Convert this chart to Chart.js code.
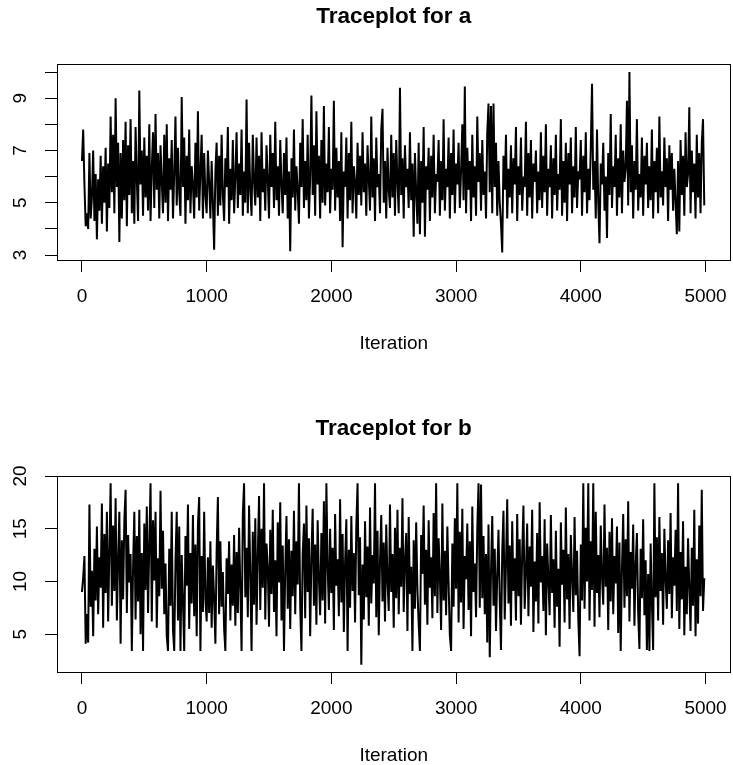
<!DOCTYPE html>
<html>
<head>
<meta charset="utf-8">
<script src="https://cdn.jsdelivr.net/npm/chart.js@4.4.0/dist/chart.umd.min.js"></script>
<style>
  body { margin: 0; background: #fff; }
  #wrap { position: relative; width: 733px; height: 765px; overflow: hidden; }
  canvas { position: absolute; left: 0; }
</style>
</head>
<body>
<div id="wrap">
  <canvas id="chartA" width="740" height="412" style="top:0px"></canvas>
  <canvas id="chartB" width="740" height="412" style="top:412px"></canvas>
</div>
<script>
// one value per 10 iterations
var step = 10

var traceA = [
  6.6, 7.8, 5.7, 4.1, 4.6, 4.0, 6.9, 4.4, 5.2, 7.0, 4.3, 6.1, 3.6, 5.9, 4.7, 6.8, 4.2, 6.4, 5.0, 7.1, 3.9, 6.5, 4.8, 8.3, 5.4,
  7.6, 4.6, 9.0, 5.6, 7.3, 3.5, 6.9, 4.4, 7.4, 5.1, 8.1, 4.1, 7.2, 5.3, 8.2, 4.6, 6.6, 4.2, 7.9, 5.9, 4.3, 9.3, 5.7, 7.0, 4.5,
  7.5, 5.2, 6.8, 4.7, 8.0, 4.3, 6.3, 7.7, 4.8, 8.4, 5.5, 6.9, 4.4, 7.2, 5.8, 4.6, 7.6, 5.0, 8.0, 4.3, 6.7, 5.5, 7.4, 4.4, 6.1,
  8.3, 4.9, 7.1, 5.4, 4.5, 9.05, 5.6, 7.5, 4.2, 6.8, 5.1, 7.8, 4.6, 6.4, 5.7, 4.4, 7.3, 5.2, 8.5, 4.7, 6.2, 7.6, 4.4, 6.9, 5.3,
  4.6, 7.0, 5.8, 4.4, 6.6, 5.0, 3.2, 6.2, 7.3, 4.5, 6.8, 4.9, 7.6, 5.3, 4.3, 6.7, 5.6, 7.9, 4.2, 6.3, 5.1, 7.4, 4.6, 6.0, 7.7,
  4.8, 6.5, 5.3, 7.8, 4.5, 6.2, 5.0, 8.95, 4.6, 7.3, 5.5, 4.5, 7.6, 5.8, 4.9, 7.5, 5.2, 6.8, 4.3, 7.7, 5.4, 6.3, 4.7, 7.2, 5.9,
  4.4, 7.6, 5.6, 6.9, 4.8, 8.1, 5.1, 6.4, 4.5, 7.4, 5.7, 4.6, 6.9, 5.3, 7.5, 4.4, 6.2, 3.15, 6.7, 5.2, 7.8, 4.7, 6.4, 5.5, 4.2,
  7.3, 5.6, 8.2, 4.8, 6.6, 5.1, 7.6, 4.4, 6.0, 9.1, 5.3, 7.2, 4.5, 8.5, 5.7, 6.8, 4.4, 7.4, 5.0, 8.7, 4.9, 6.5, 5.4, 7.9, 4.6,
  6.3, 5.5, 8.9, 4.7, 7.1, 5.2, 6.6, 4.3, 7.7, 3.3, 6.2, 5.6, 7.5, 4.4, 6.9, 5.1, 8.1, 4.6, 6.4, 5.8, 4.4, 7.3, 5.3, 6.8, 4.9,
  7.7, 5.4, 6.5, 4.5, 7.2, 5.9, 4.7, 8.3, 5.2, 6.7, 4.3, 7.5, 5.6, 6.1, 4.6, 7.8, 8.6, 5.0, 6.6, 4.4, 7.1, 5.5, 4.8, 7.6, 5.2,
  6.9, 4.5, 7.4, 5.8, 4.6, 9.4, 5.3, 6.7, 4.4, 7.2, 5.6, 6.3, 4.8, 7.7, 5.1, 6.5, 3.7, 6.9, 5.4, 4.2, 7.3, 3.8, 6.6, 5.0, 7.9,
  3.7, 6.4, 5.5, 7.1, 4.3, 6.8, 5.2, 7.6, 4.6, 6.1, 5.8, 7.4, 4.5, 6.6, 5.1, 8.2, 4.7, 6.3, 5.6, 7.5, 4.4, 6.9, 5.3, 7.8, 4.6,
  6.5, 5.7, 7.3, 4.8, 6.2, 8.0, 5.1, 9.45, 4.6, 7.1, 5.5, 6.6, 4.3, 7.6, 5.2, 6.4, 4.5, 8.3, 5.8, 6.9, 4.7, 7.4, 5.3, 6.2, 4.4,
  7.7, 8.8, 5.4, 8.7, 4.6, 8.8, 5.6, 7.3, 4.5, 6.6, 5.0, 4.2, 3.1, 6.8, 5.5, 7.6, 4.4, 6.3, 5.2, 7.2, 4.6, 6.7, 5.7, 7.9, 4.3,
  6.4, 5.3, 7.5, 4.7, 6.0, 5.6, 8.1, 4.5, 6.9, 5.2, 7.4, 4.4, 6.5, 5.8, 7.0, 4.6, 6.2, 5.1, 7.7, 4.8, 6.8, 5.4, 8.0, 4.5, 6.3,
  5.6, 7.2, 4.4, 6.7, 5.3, 7.6, 4.7, 6.1, 5.5, 8.2, 4.5, 6.6, 5.0, 7.3, 4.3, 6.9, 5.7, 7.5, 4.6, 6.4, 5.2, 7.9, 4.8, 6.2, 5.9,
  7.4, 4.5, 6.8, 5.4, 7.7, 4.6, 6.3, 5.1, 7.1, 9.55, 5.5, 6.6, 4.4, 7.8, 5.0, 3.45, 6.5, 5.7, 7.3, 4.7, 6.0, 3.65, 6.9, 5.3, 8.4,
  4.8, 6.4, 5.6, 7.6, 4.5, 6.7, 5.2, 8.0, 4.6, 7.0, 5.8, 6.3, 8.9, 4.9, 10.0, 5.4, 7.2, 4.4, 6.6, 5.5, 8.2, 4.7, 6.1, 5.2, 7.5,
  4.5, 6.8, 5.7, 7.3, 4.8, 6.4, 5.1, 7.8, 4.4, 6.6, 5.4, 7.1, 4.6, 8.3, 5.2, 6.2, 4.9, 7.5, 5.6, 6.7, 4.3, 7.2, 5.5, 6.9, 4.7,
  6.3, 5.0, 3.8, 6.6, 3.9, 7.4, 5.3, 6.8, 4.5, 7.7, 5.6, 6.1, 8.65, 4.6, 7.0, 5.4, 6.5, 4.4, 7.6, 5.2, 6.9, 4.6, 7.3, 8.2, 4.9
]

var traceB = [
  9.0, 10.4, 12.4, 4.1, 6.9, 4.2, 17.3, 7.6, 11.0, 4.8, 13.1, 8.2, 15.2, 6.9, 12.3, 9.4, 17.4, 5.6, 14.5, 8.9, 16.6, 6.2, 13.0, 19.3, 7.7,
  15.3, 9.1, 17.9, 6.3, 12.0, 16.6, 4.1, 13.9, 8.3, 15.8, 18.7, 7.0, 14.4, 9.9, 12.6, 3.4, 11.4, 16.6, 6.4, 14.3, 8.1, 16.8, 5.0, 12.7, 3.4,
  15.5, 9.2, 17.1, 7.0, 13.6, 19.3, 6.2, 15.8, 10.1, 16.6, 5.6, 12.2, 8.6, 18.6, 9.3, 14.8, 6.9, 11.7, 4.8, 3.4, 13.1, 7.7, 16.6, 5.4, 3.4,
  11.9, 16.6, 6.3, 15.2, 3.4, 12.5, 8.1, 3.4, 14.3, 9.6, 17.3, 5.5, 12.7, 7.9, 16.3, 6.7, 13.5, 4.8, 15.4, 18.0, 3.4, 12.4, 7.1, 16.6, 8.3,
  6.2, 12.3, 7.0, 13.8, 5.6, 11.5, 8.4, 4.1, 12.9, 18.0, 6.9, 13.8, 7.6, 10.9, 5.5, 3.4, 12.2, 8.8, 13.8, 6.3, 11.6, 7.7, 14.4, 5.8, 12.8,
  7.0, 15.1, 9.3, 3.4, 16.4, 19.3, 8.5, 13.2, 6.6, 17.2, 10.8, 3.4, 14.7, 7.8, 16.0, 5.9, 12.4, 18.1, 7.3, 15.0, 9.4, 19.3, 6.4, 13.6, 11.3,
  5.7, 14.9, 8.8, 16.8, 7.1, 12.0, 4.8, 15.6, 9.9, 17.5, 6.3, 13.4, 3.4, 11.1, 16.2, 7.4, 14.0, 5.5, 12.9, 8.6, 16.7, 6.9, 13.8, 9.7, 19.3,
  7.6, 3.4, 12.6, 15.5, 6.5, 17.2, 9.0, 14.1, 4.8, 12.3, 16.9, 7.7, 13.5, 5.9, 15.8, 10.3, 6.8, 14.6, 8.2, 17.6, 6.0, 19.3, 11.4, 7.3, 15.0,
  8.9, 13.2, 5.4, 16.4, 9.6, 12.1, 6.7, 17.8, 8.0, 14.5, 5.2, 11.8, 15.9, 3.4, 13.0, 7.5, 16.2, 9.1, 12.7, 6.1, 15.3, 19.3, 8.7, 14.2, 2.1,
  11.6, 6.4, 15.7, 8.5, 13.3, 5.8, 17.0, 7.9, 12.5, 9.8, 19.3, 6.6, 14.8, 4.9, 11.9, 16.3, 8.1, 13.7, 6.2, 15.4, 10.0, 7.2, 17.3, 9.0, 12.6,
  5.6, 15.1, 8.4, 16.8, 6.9, 13.2, 9.5, 17.9, 7.1, 12.0, 14.6, 5.3, 16.1, 8.8, 11.4, 3.4, 13.9, 7.4, 15.6, 9.2, 6.0, 3.4, 14.4, 10.7, 17.2,
  7.8, 13.0, 5.9, 15.8, 9.4, 12.3, 6.5, 16.5, 8.6, 19.3, 7.0, 14.1, 10.5, 5.4, 17.4, 8.2, 12.9, 6.8, 15.2, 9.7, 4.9, 3.4, 13.6, 7.6, 16.0,
  9.3, 19.3, 6.1, 14.7, 8.0, 16.9, 5.5, 12.4, 10.2, 15.5, 7.3, 13.8, 4.8, 17.1, 9.0, 11.7, 6.6, 15.0, 19.3, 7.5, 19.2, 8.4, 14.3, 6.9, 12.6,
  4.2, 15.4, 2.8, 11.0, 16.2, 7.7, 13.1, 5.3, 10.6, 14.9, 8.2, 3.5, 12.8, 16.7, 6.4, 11.5, 17.8, 7.9, 13.4, 5.8, 15.7, 9.1, 12.2, 6.3, 16.4,
  8.6, 14.0, 5.9, 12.7, 17.2, 7.4, 10.8, 15.5, 6.7, 13.3, 9.5, 16.8, 5.2, 11.9, 8.1, 14.6, 6.0, 17.5, 9.9, 12.4, 7.2, 15.9, 4.9, 13.6, 10.3,
  6.8, 16.3, 8.9, 12.1, 5.6, 14.8, 7.6, 11.2, 3.8, 15.6, 9.7, 13.0, 6.1, 17.0, 8.3, 12.6, 5.5, 14.4, 10.5, 7.1, 16.1, 8.7, 12.9, 6.4, 2.9,
  13.5, 8.2, 19.3, 7.4, 15.1, 10.0, 19.3, 6.3, 13.8, 9.2, 19.3, 5.7, 16.6, 8.9, 12.5, 6.6, 15.3, 10.4, 7.8, 17.3, 9.5, 13.2, 5.4, 14.7, 8.1,
  16.0, 6.9, 12.4, 9.8, 15.2, 5.1, 13.7, 3.4, 11.2, 16.4, 7.5, 14.0, 8.6, 17.6, 6.2, 12.8, 9.3, 15.4, 5.8, 11.6, 14.6, 7.0, 3.6, 13.1, 8.4,
  15.9, 6.8, 12.0, 3.5, 10.7, 3.4, 13.6, 7.9, 3.5, 19.3, 8.5, 14.2, 6.3, 16.1, 9.1, 12.7, 5.9, 15.0, 10.2, 7.4, 13.9, 8.8, 16.5, 6.5, 12.3,
  9.6, 14.9, 7.2, 19.3, 5.5, 12.8, 8.3, 15.7, 4.9, 11.4, 6.9, 14.1, 9.4, 5.3, 13.2, 7.7, 16.8, 4.8, 12.1, 6.0, 15.3, 8.6, 18.7, 7.2, 10.3
]

var xTicks = [0, 1000, 2000, 3000, 4000, 5000]
var yTicksA = [3, 4, 5, 6, 7, 8, 9, 10]
var yLabelsA = [3, 5, 7, 9]
var yTicksB = [5, 10, 15, 20]
var yLabelsB = [5, 10, 15, 20]

var FONT = "'Liberation Sans', Arial, Helvetica, sans-serif"

// R-style box round the plot region plus rotated y labels
var rStyle = {
  id: 'rStyle',
  afterDatasetsDraw: function(chart, args, opts) {
    var ctx = chart.ctx
    var ca = chart.chartArea
    ctx.save()
    ctx.strokeStyle = '#000'
    ctx.lineWidth = 1
    var l = Math.round(ca.left) + 0.5, t = Math.round(ca.top) + 0.5
    var r = Math.round(ca.right) + 0.5, b = Math.round(ca.bottom) + 0.5
    ctx.strokeRect(l, t, r - l, b - t)

    var ys = chart.scales.y
    ctx.fillStyle = '#000'
    ctx.font = '19px ' + FONT
    ctx.textAlign = 'center'
    ctx.textBaseline = 'middle'
    opts.labels.forEach(function(v) {
      var py = ys.getPixelForValue(v)
      ctx.save()
      ctx.translate(21, py)
      ctx.rotate(-Math.PI / 2)
      ctx.fillText(String(v), 0, 0)
      ctx.restore()
    })
    ctx.restore()
  }
}

function traceplot(id, title, values, yMin, yMax, yTicks, yLabels) {
  var pts = values.map(function(v, i) { return {x: i * step, y: v} })
  return new Chart(document.getElementById(id), {
    type: 'line',
    data: {
      datasets: [{
        data: pts,
        borderColor: '#000',
        borderWidth: 2,
        pointRadius: 0,
        tension: 0,
        fill: false
      }]
    },
    options: {
      responsive: false,
      animation: false,
      parsing: false,
      layout: { padding: { left: 0, right: 5.6, top: 0, bottom: 0 } },
      plugins: {
        legend: { display: false },
        tooltip: { enabled: false },
        title: {
          display: true,
          text: title,
          fullSize: false,
          color: '#000',
          font: { family: FONT, size: 22.5, weight: 'bold' },
          padding: { top: 3, bottom: 34 }
        },
        rStyle: { labels: yLabels }
      },
      scales: {
        x: {
          type: 'linear',
          min: -200,
          max: 5200,
          afterBuildTicks: function(s) { s.ticks = xTicks.map(function(v) { return {value: v} }) },
          afterFit: function(s) { s.height = 152 },
          border: { display: false },
          grid: { drawOnChartArea: false, drawTicks: true, tickLength: 12, color: '#000' },
          ticks: {
            color: '#000',
            font: { family: FONT, size: 19 },
            padding: 13,
            maxRotation: 0,
            autoSkip: false,
            callback: function(v) { return String(v) }
          },
          title: {
            display: true,
            text: 'Iteration',
            color: '#000',
            font: { family: FONT, size: 19 },
            padding: { top: 0, bottom: 56.6 }
          }
        },
        y: {
          type: 'linear',
          min: yMin,
          max: yMax,
          afterBuildTicks: function(s) { s.ticks = yTicks.map(function(v) { return {value: v} }) },
          afterFit: function(s) { s.width = 57 },
          border: { display: false },
          grid: { drawOnChartArea: false, drawTicks: true, tickLength: 12, color: '#000' },
          ticks: { display: false }
        }
      }
    },
    plugins: [rStyle]
  })
}

traceplot('chartA', 'Traceplot for a', traceA, 2.81, 10.31, yTicksA, yLabelsA)
traceplot('chartB', 'Traceplot for b', traceB, 1.41, 20.0, yTicksB, yLabelsB)
</script>
</body>
</html>
